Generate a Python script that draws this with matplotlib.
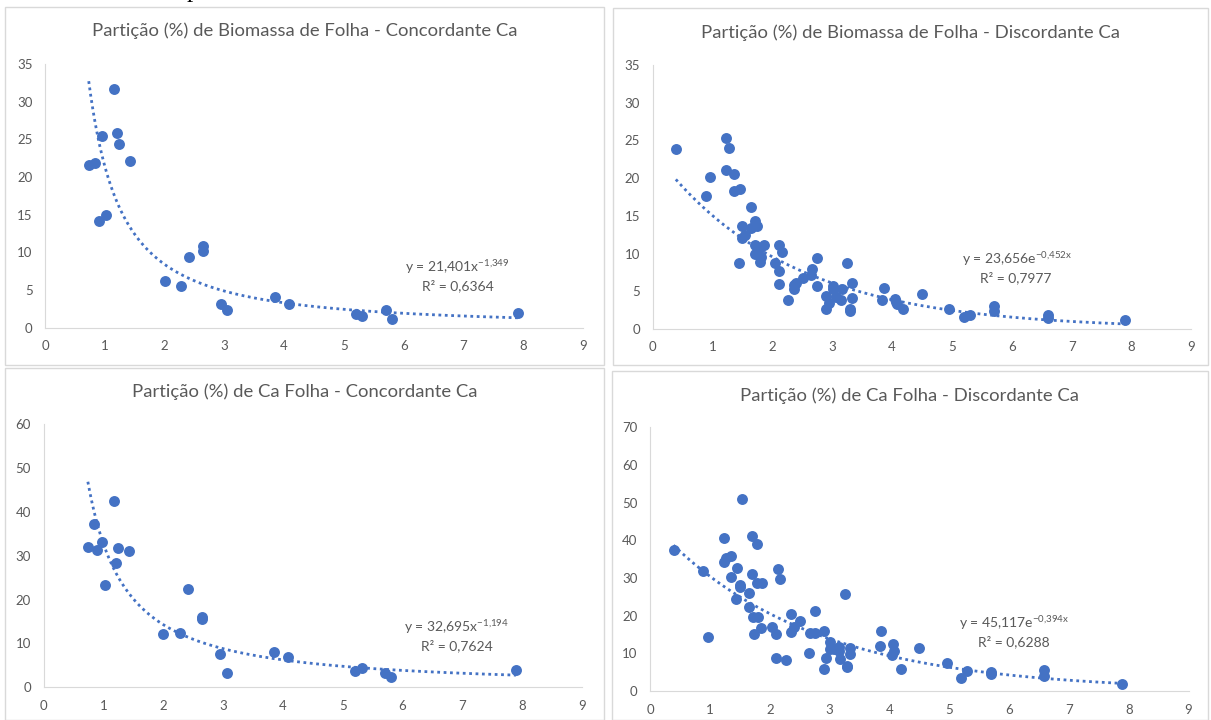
import numpy as np
import matplotlib
matplotlib.use("Agg")
import matplotlib.pyplot as plt
from matplotlib.patches import Rectangle

plt.rcParams["font.family"] = ["Lato", "DejaVu Sans"]
plt.rcParams["mathtext.fontset"] = "custom"
plt.rcParams["mathtext.rm"] = "Lato"

BLUE = "#4472C4"
GRAY = "#595959"
LINE = "#D9D9D9"

# Partição (%) de Biomassa de Folha - Concordante Ca
conc_x = [0.73, 0.83, 0.96, 0.90, 1.02, 1.16, 1.21, 1.23, 1.42, 2.00, 2.27, 2.40,
          2.65, 2.65, 2.95, 3.05, 3.84, 4.08, 5.20, 5.30, 5.70, 5.81, 7.91]
conc_bio = [21.6, 21.9, 25.5, 14.2, 15.0, 31.7, 25.9, 24.4, 22.1, 6.2, 5.6, 9.4,
            10.9, 10.2, 3.1, 2.4, 4.1, 3.1, 1.8, 1.6, 2.4, 1.2, 1.9]

# Partição (%) de Ca Folha - Concordante Ca
conc_ca_x = [0.74, 0.84, 0.90, 0.97, 1.03, 1.17, 1.21, 1.24, 1.43, 2.00, 2.28, 2.41,
             2.65, 2.65, 2.95, 3.06, 3.85, 4.08, 5.20, 5.32, 5.70, 5.81, 7.90]
conc_ca = [32.0, 37.1, 31.4, 33.0, 23.2, 42.5, 28.3, 31.7, 31.1, 12.1, 12.4, 22.3,
           16.0, 15.5, 7.5, 3.3, 8.1, 6.9, 3.8, 4.4, 3.3, 2.4, 3.9]

# Partição (%) de Biomassa de Folha - Discordante Ca
disc_x = [0.39, 0.90, 0.96, 1.23, 1.27, 1.23, 1.36, 1.36, 1.46, 1.44, 1.65, 1.50,
          1.65, 1.71, 1.75, 1.50, 1.54, 1.72, 1.71, 1.79, 1.81, 1.79, 1.87, 2.12,
          2.17, 2.05, 2.11, 2.11, 2.27, 2.36, 2.36, 2.40, 2.51, 2.65, 2.67, 2.75,
          2.75, 2.90, 2.90, 2.94, 3.01, 3.01, 3.06, 3.15, 3.16, 3.25, 3.34, 3.34,
          3.30, 3.30, 3.83, 3.86, 4.05, 4.07, 4.09, 4.19, 4.51, 4.96, 5.20, 5.30,
          5.70, 5.70, 6.60, 6.60, 7.89]
disc_bio = [23.9, 17.6, 20.1, 25.3, 24.0, 21.1, 20.5, 18.3, 18.5, 8.7, 16.2, 13.7,
            13.4, 14.3, 13.7, 12.1, 12.5, 11.2, 10.0, 10.7, 9.5, 8.9, 11.2, 11.2,
            10.2, 8.7, 7.7, 5.9, 3.9, 5.3, 5.8, 6.1, 6.7, 7.2, 8.0, 9.4,
            5.7, 4.4, 2.7, 3.5, 5.7, 5.3, 4.2, 3.9, 5.3, 8.7, 6.1, 4.1,
            2.7, 2.4, 3.9, 5.4, 4.0, 3.6, 3.3, 2.6, 4.7, 2.6, 1.6, 1.8,
            3.0, 2.4, 1.8, 1.4, 1.2]

# Partição (%) de Ca Folha - Discordante Ca
disc_ca_x = [0.39, 0.89, 0.96, 1.23, 1.23, 1.27, 1.35, 1.35, 1.45, 1.44, 1.50, 1.50,
             1.54, 1.65, 1.65, 1.70, 1.70, 1.79, 1.79, 1.87, 1.72, 1.81, 1.74, 1.85,
             2.04, 2.11, 2.11, 2.13, 2.17, 2.27, 2.36, 2.36, 2.40, 2.50, 2.65, 2.67,
             2.75, 2.75, 2.90, 2.90, 2.94, 3.00, 3.00, 3.07, 3.15, 3.15, 3.17, 3.25,
             3.29, 3.29, 3.34, 3.34, 3.84, 3.86, 4.04, 4.06, 4.08, 4.19, 4.50, 4.96,
             5.20, 5.30, 5.69, 5.69, 6.59, 6.59, 7.89]
disc_ca = [37.3, 31.9, 14.4, 40.6, 34.2, 35.4, 35.9, 30.3, 32.6, 24.3, 28.1, 27.5,
           50.9, 26.0, 22.4, 41.2, 31.0, 38.9, 28.6, 28.6, 19.7, 19.7, 15.0, 16.7,
           17.1, 15.0, 8.7, 32.3, 29.6, 8.1, 20.4, 15.7, 17.1, 18.7, 10.1, 15.3,
           21.3, 15.3, 5.8, 15.8, 8.7, 13.1, 11.2, 11.2, 11.8, 10.7, 8.4, 25.7,
           6.6, 6.3, 11.5, 9.8, 12.0, 16.0, 9.6, 12.4, 10.6, 5.8, 11.4, 7.4,
           3.5, 5.4, 5.1, 4.4, 5.5, 4.0, 1.8]

panels = [
    dict(title="Partição (%) de Biomassa de Folha - Concordante Ca",
         x=conc_x, y=conc_bio, kind="pow", a=21.401, b=-1.349, ymax=35,
         eq="21{,}401x", ex="-1{,}349", r2="0,6364", ex_pos=(6.9, 8.1), r2_pos=(6.9, 5.6),
         rect=[45.1, 583, 64, 327.7], box=[5, 7, 604, 365], title_y=31),
    dict(title="Partição (%) de Biomassa de Folha - Discordante Ca",
         x=disc_x, y=disc_bio, kind="exp", a=23.656, b=-0.452, ymax=35,
         eq="23{,}656e", ex="-0{,}452x", r2="0,7977", ex_pos=(6.09, 9.3), r2_pos=(6.07, 6.8),
         rect=[652.5, 1191.3, 65, 329], box=[613, 8, 1208, 365], title_y=33),
    dict(title="Partição (%) de Ca Folha - Concordante Ca",
         x=conc_ca_x, y=conc_ca, kind="pow", a=32.695, b=-1.194, ymax=60,
         eq="32{,}695x", ex="-1{,}194", r2="0,7624", ex_pos=(6.91, 13.7), r2_pos=(6.91, 9.5),
         rect=[43.6, 581.9, 424, 687.3], box=[5, 368, 604, 720], title_y=392),
    dict(title="Partição (%) de Ca Folha - Discordante Ca",
         x=disc_ca_x, y=disc_ca, kind="exp", a=45.117, b=-0.394, ymax=70,
         eq="45{,}117e", ex="-0{,}394x", r2="0,6288", ex_pos=(6.09, 18.1), r2_pos=(6.08, 13.1),
         rect=[650.2, 1188.6, 427.3, 691], box=[612, 371, 1208, 720], title_y=396),
]

W, H = 1211, 720
fig = plt.figure(figsize=(W / 100, H / 100), dpi=100)

for p in panels:
    bx0, by0, bx1, by1 = p["box"]
    fig.patches.append(Rectangle((bx0 / W, 1 - by1 / H), (bx1 - bx0) / W, (by1 - by0) / H,
                                 transform=fig.transFigure, fill=False, edgecolor=LINE, lw=1))
    x0, x1, yt, yb = p["rect"]
    ax = fig.add_axes([x0 / W, 1 - yb / H, (x1 - x0) / W, (yb - yt) / H])
    ax.scatter(p["x"], p["y"], s=62, color=BLUE, zorder=3, linewidths=0)
    xs = np.linspace(min(p["x"]), max(p["x"]), 200)
    if p["kind"] == "pow":
        ys = p["a"] * xs ** p["b"]
    else:
        ys = p["a"] * np.exp(p["b"] * xs)
    ax.plot(xs, ys, color=BLUE, lw=2, linestyle=(0, (1, 1.3)), zorder=2)
    ax.set_xlim(0, 9)
    ax.set_ylim(0, p["ymax"])
    ax.set_xticks(range(0, 10))
    ax.set_yticks(range(0, p["ymax"] + 1, 5 if p["ymax"] == 35 else 10))
    for s in ["top", "right"]:
        ax.spines[s].set_visible(False)
    for s in ["left", "bottom"]:
        ax.spines[s].set_color(LINE)
    ax.tick_params(length=0, labelsize=9.5, labelcolor=GRAY)
    ax.tick_params(axis="x", pad=9)
    ax.tick_params(axis="y", pad=9)
    ax.text(*p["ex_pos"], r"y = $\mathregular{%s}^{\mathregular{%s}}$" % (p["eq"], p["ex"]),
            ha="center", va="center", fontsize=10, color=GRAY)
    ax.text(*p["r2_pos"], "R² = " + p["r2"], ha="center", va="center", fontsize=10, color=GRAY)
    cx = (bx0 + bx1) / 2 / W
    fig.text(cx, 1 - p["title_y"] / H, p["title"], ha="center", va="center",
             fontsize=13.3, color=GRAY)

# cut-off text at the top of the page
fig.text(193 / W, 1 + 3 / H, "p", ha="center", va="baseline", fontsize=18,
         family="Liberation Serif", color="black")

fig.savefig("out.png", dpi=100, facecolor="white")
